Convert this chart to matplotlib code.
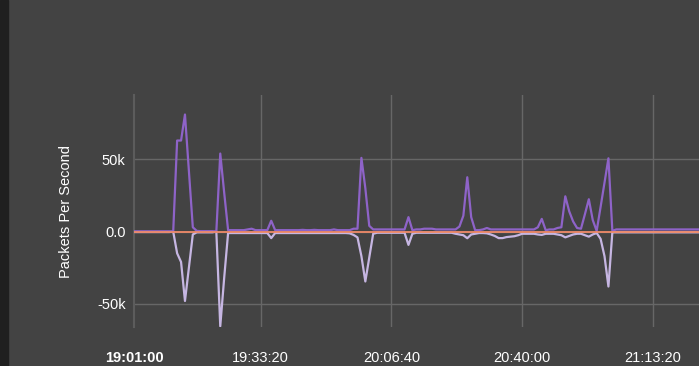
import numpy as np
import pandas as pd
import matplotlib
matplotlib.use("Agg")
import matplotlib.pyplot as plt
import matplotlib.dates as mdates
from matplotlib.patches import Rectangle

plt.rcParams['font.family'] = ['Liberation Sans', 'DejaVu Sans']

# one sample per minute starting 19:01:00, values in thousands of packets/s
start = "2020-01-01 19:01:00"
n_points = 145

rx_k = [
    0.2, 0.2, 0.2, 0.2, 0.2, 0.2, 0.2, 0.2, 0.2, 0.2,
    0, 63, 63, 81, 42, 3, 0.5, 0.3, 0.3, 0.3,
    0.3, 0, 54, 27, 1, 1, 1, 1, 1, 1.5,
    2, 1, 1, 1, 1, 7.5, 1, 1, 1, 1,
    1, 1, 1, 1.2, 1, 1, 1.2, 1, 1, 1,
    1, 1.5, 1, 1, 1, 1, 2, 2, 51, 30,
    4, 1.5, 1.5, 1.5, 1.5, 1.5, 1.5, 1.5, 1.5, 1.5,
    10, 1, 1.5, 1.5, 2, 2, 2, 1.5, 1.5, 1.5,
    1.5, 1.5, 1.5, 3.5, 11, 37.6, 10, 1, 1, 1.5,
    2.5, 1.5, 1.5, 1.5, 1.5, 1.5, 1.5, 1.5, 1.5, 1.5,
    1.5, 1.5, 1.5, 3, 8.8, 1, 1.5, 1.5, 2.5, 3,
    24.4, 14, 7, 2.5, 2, 12, 22.4, 8, 0.5, 17,
    34, 50.7, 0.5, 1.5, 1.5, 1.5, 1.5, 1.5, 1.5, 1.5,
    1.5, 1.5, 1.5, 1.5, 1.5, 1.5, 1.5, 1.5, 1.5, 1.5,
    1.5, 1.5, 1.5, 1.5, 1.5,
]

tx_k = [
    -0.3, -0.3, -0.3, -0.3, -0.3, -0.3, -0.3, -0.3, -0.3, -0.3,
    0, -15, -21, -48, -25, -2, -0.5, -0.5, -0.5, -0.5,
    -0.5, 0, -65.5, -32, -1, -1, -1, -1, -1, -1,
    -1, -1, -1, -1, -1, -4.5, -1, -1, -1, -1,
    -1, -1, -1, -1, -1, -1, -1, -1, -1, -1,
    -1, -1, -1, -1, -1, -1.2, -2.3, -4, -17, -34.5,
    -18, -1.5, -0.8, -0.8, -0.8, -0.8, -0.8, -0.8, -0.8, -0.8,
    -9.2, -1.5, -0.8, -0.8, -0.8, -0.8, -0.8, -0.8, -0.8, -0.8,
    -0.8, -0.8, -1.5, -2, -2.5, -4.6, -2, -1.5, -1, -1,
    -1.2, -2, -3, -4.5, -4.5, -3.8, -3.5, -3.2, -2.5, -1.5,
    -1.5, -1.5, -1.5, -2, -2.3, -1.5, -1.5, -1.5, -2, -2.5,
    -4, -3, -2, -1.5, -1.5, -2.5, -3.5, -2, -1, -5,
    -17, -38, -0.5, -0.5, -0.5, -0.5, -0.5, -0.5, -0.5, -0.5,
    -0.5, -0.5, -0.5, -0.5, -0.5, -0.5, -0.5, -0.5, -0.5, -0.5,
    -0.5, -0.5, -0.5, -0.5, -0.5,
]

drop_k = [0.0] * n_points

ytick_vals = [-50000, 0, 50000]
ytick_labels = ['-50k', '0.0', '50k']
xtick_times = ["19:01:00", "19:33:20", "20:06:40", "20:40:00", "21:13:20"]

t = pd.date_range(start, periods=n_points, freq="60s")
rx = np.array(rx_k) * 1000
tx = np.array(tx_k) * 1000
drop = np.array(drop_k) * 1000

bg = '#434343'
fig = plt.figure(figsize=(6.99, 3.66), dpi=100, facecolor=bg)
fig.patches.append(Rectangle((0, 0), 8 / 699, 1, transform=fig.transFigure,
                             color='#1f1f1f', zorder=0))
ax = fig.add_axes([134 / 699, 1 - 327 / 366, 565 / 699, 232 / 366])
ax.set_facecolor(bg)

ax.plot(t, tx, color='#c6b6e2', lw=1.6, zorder=3)
ax.plot(t, rx, color='#8e63c8', lw=1.6, zorder=4)
ax.plot(t, drop, color='#ef8a68', lw=1.3, zorder=5)

t0 = pd.Timestamp(start)
ax.set_xlim(t0, t0 + pd.Timedelta(seconds=8646))
ax.set_ylim(-66000, 94500)

ticks = [pd.Timestamp("2020-01-01 " + s) for s in xtick_times]
ax.set_xticks(ticks)
ax.set_xticklabels(xtick_times, color='white', fontsize=10.5)
ax.get_xticklabels()[0].set_fontweight('bold')
ax.set_yticks(ytick_vals)
ax.set_yticklabels(ytick_labels, color='white', fontsize=10.5)
ax.tick_params(length=0, pad=6)
ax.tick_params(axis='x', pad=17)

for v in ytick_vals:
    ax.axhline(v, color='#676767', lw=1, zorder=1)
for tk in ticks[1:]:
    ax.axvline(tk, color='#676767', lw=1, zorder=1)

for s in ['top', 'right', 'bottom']:
    ax.spines[s].set_visible(False)
ax.spines['left'].set_color('#5c5c5c')
ax.spines['left'].set_linewidth(1.5)

fig.text(66 / 699, 1 - 212 / 366, 'Packets Per Second', rotation=90,
         color='white', fontsize=10.5, ha='center', va='center')

fig.savefig('out.png', dpi=100, facecolor=bg)
